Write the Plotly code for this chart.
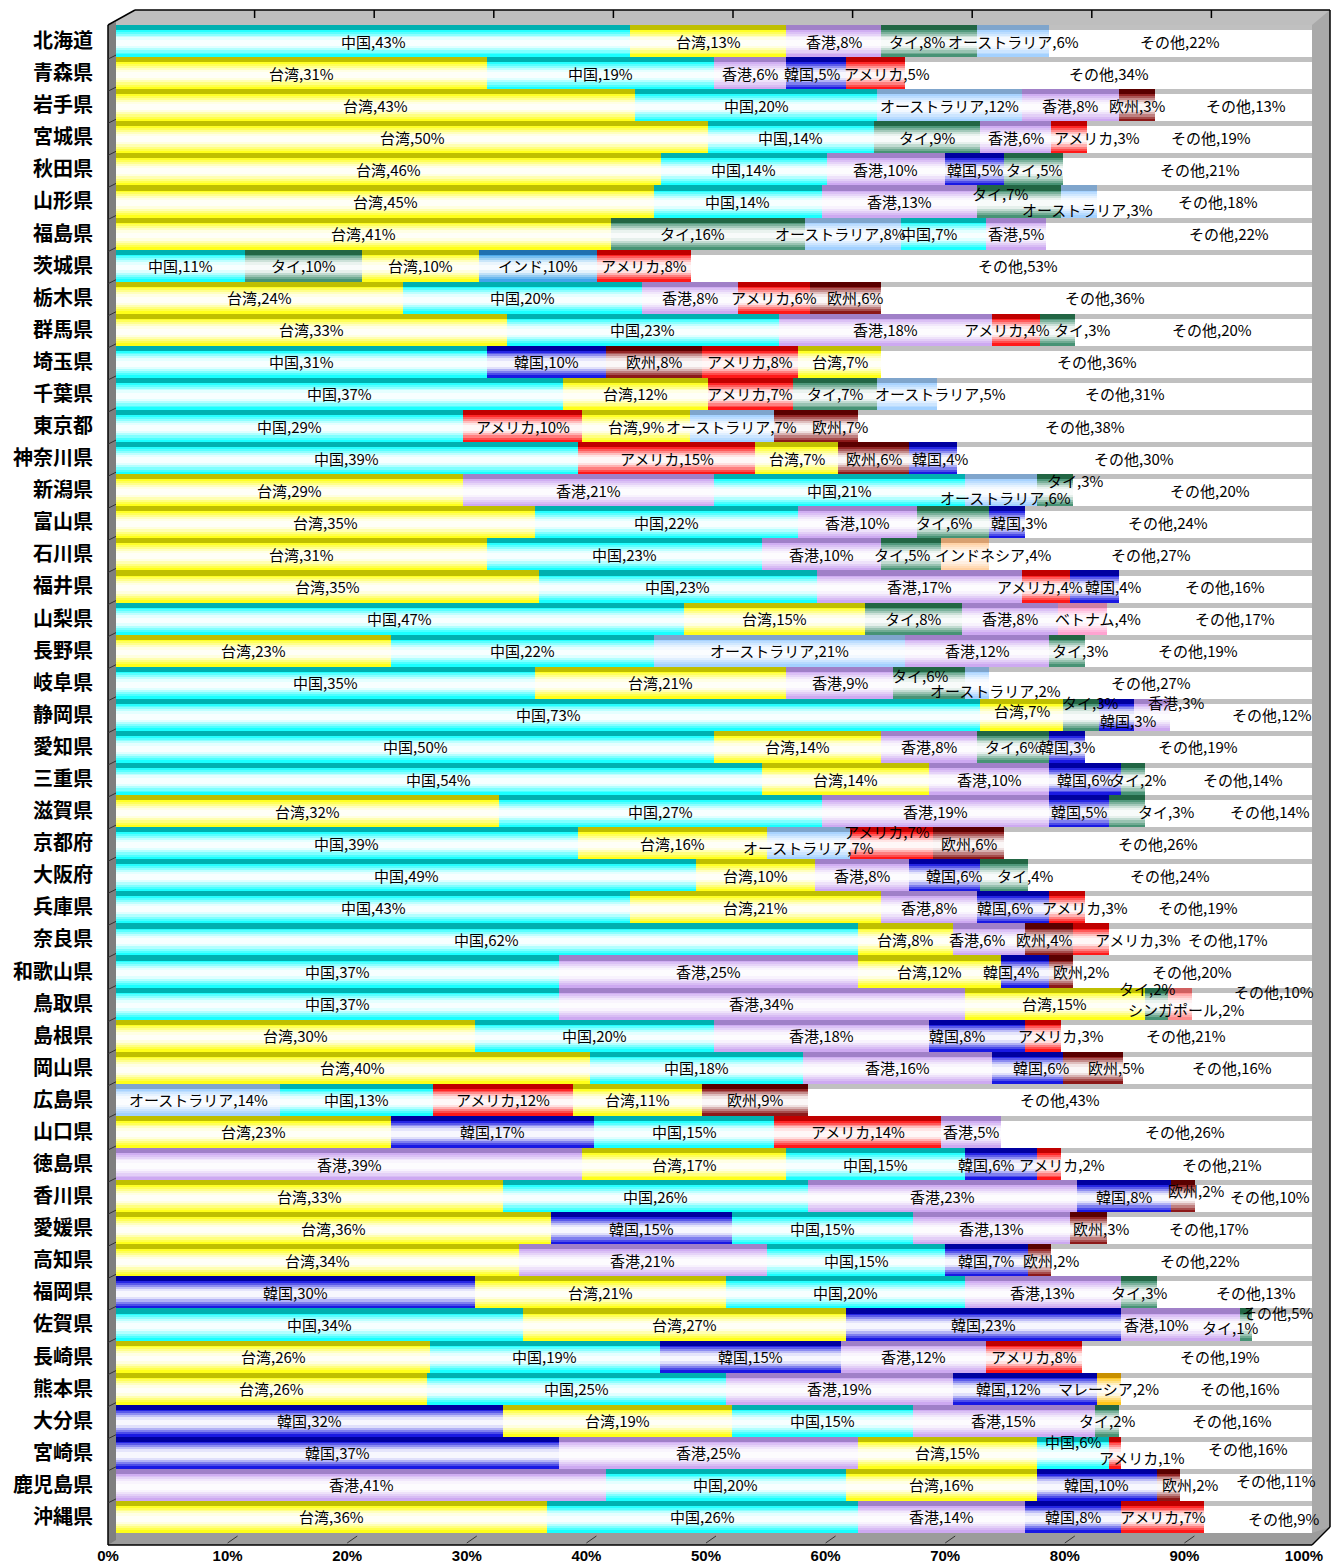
import plotly.graph_objects as go

prefectures = ["北海道", "青森県", "岩手県", "宮城県", "秋田県", "山形県", "福島県", "茨城県", "栃木県", "群馬県",
               "埼玉県", "千葉県", "東京都", "神奈川県", "新潟県", "富山県", "石川県", "福井県", "山梨県", "長野県",
               "岐阜県", "静岡県", "愛知県", "三重県", "滋賀県", "京都府", "大阪府", "兵庫県", "奈良県", "和歌山県",
               "鳥取県", "島根県", "岡山県", "広島県", "山口県", "徳島県", "香川県", "愛媛県", "高知県", "福岡県",
               "佐賀県", "長崎県", "熊本県", "大分県", "宮崎県", "鹿児島県", "沖縄県"]

seg_countries = [
    ["中国", "台湾", "香港", "タイ", "オーストラリア", "その他"],
    ["台湾", "中国", "香港", "韓国", "アメリカ", "その他"],
    ["台湾", "中国", "オーストラリア", "香港", "欧州", "その他"],
    ["台湾", "中国", "タイ", "香港", "アメリカ", "その他"],
    ["台湾", "中国", "香港", "韓国", "タイ", "その他"],
    ["台湾", "中国", "香港", "タイ", "オーストラリア", "その他"],
    ["台湾", "タイ", "オーストラリア", "中国", "香港", "その他"],
    ["中国", "タイ", "台湾", "インド", "アメリカ", "その他"],
    ["台湾", "中国", "香港", "アメリカ", "欧州", "その他"],
    ["台湾", "中国", "香港", "アメリカ", "タイ", "その他"],
    ["中国", "韓国", "欧州", "アメリカ", "台湾", "その他"],
    ["中国", "台湾", "アメリカ", "タイ", "オーストラリア", "その他"],
    ["中国", "アメリカ", "台湾", "オーストラリア", "欧州", "その他"],
    ["中国", "アメリカ", "台湾", "欧州", "韓国", "その他"],
    ["台湾", "香港", "中国", "オーストラリア", "タイ", "その他"],
    ["台湾", "中国", "香港", "タイ", "韓国", "その他"],
    ["台湾", "中国", "香港", "タイ", "インドネシア", "その他"],
    ["台湾", "中国", "香港", "アメリカ", "韓国", "その他"],
    ["中国", "台湾", "タイ", "香港", "ベトナム", "その他"],
    ["台湾", "中国", "オーストラリア", "香港", "タイ", "その他"],
    ["中国", "台湾", "香港", "タイ", "オーストラリア", "その他"],
    ["中国", "台湾", "タイ", "韓国", "香港", "その他"],
    ["中国", "台湾", "香港", "タイ", "韓国", "その他"],
    ["中国", "台湾", "香港", "韓国", "タイ", "その他"],
    ["台湾", "中国", "香港", "韓国", "タイ", "その他"],
    ["中国", "台湾", "オーストラリア", "アメリカ", "欧州", "その他"],
    ["中国", "台湾", "香港", "韓国", "タイ", "その他"],
    ["中国", "台湾", "香港", "韓国", "アメリカ", "その他"],
    ["中国", "台湾", "香港", "欧州", "アメリカ", "その他"],
    ["中国", "香港", "台湾", "韓国", "欧州", "その他"],
    ["中国", "香港", "台湾", "タイ", "シンガポール", "その他"],
    ["台湾", "中国", "香港", "韓国", "アメリカ", "その他"],
    ["台湾", "中国", "香港", "韓国", "欧州", "その他"],
    ["オーストラリア", "中国", "アメリカ", "台湾", "欧州", "その他"],
    ["台湾", "韓国", "中国", "アメリカ", "香港", "その他"],
    ["香港", "台湾", "中国", "韓国", "アメリカ", "その他"],
    ["台湾", "中国", "香港", "韓国", "欧州", "その他"],
    ["台湾", "韓国", "中国", "香港", "欧州", "その他"],
    ["台湾", "香港", "中国", "韓国", "欧州", "その他"],
    ["韓国", "台湾", "中国", "香港", "タイ", "その他"],
    ["中国", "台湾", "韓国", "香港", "タイ", "その他"],
    ["台湾", "中国", "韓国", "香港", "アメリカ", "その他"],
    ["台湾", "中国", "香港", "韓国", "マレーシア", "その他"],
    ["韓国", "台湾", "中国", "香港", "タイ", "その他"],
    ["韓国", "香港", "台湾", "中国", "アメリカ", "その他"],
    ["香港", "中国", "台湾", "韓国", "欧州", "その他"],
    ["台湾", "中国", "香港", "韓国", "アメリカ", "その他"],
]

seg_values = [
    [43, 13, 8, 8, 6, 22],
    [31, 19, 6, 5, 5, 34],
    [43, 20, 12, 8, 3, 13],
    [50, 14, 9, 6, 3, 19],
    [46, 14, 10, 5, 5, 21],
    [45, 14, 13, 7, 3, 18],
    [41, 16, 8, 7, 5, 22],
    [11, 10, 10, 10, 8, 53],
    [24, 20, 8, 6, 6, 36],
    [33, 23, 18, 4, 3, 20],
    [31, 10, 8, 8, 7, 36],
    [37, 12, 7, 7, 5, 31],
    [29, 10, 9, 7, 7, 38],
    [39, 15, 7, 6, 4, 30],
    [29, 21, 21, 6, 3, 20],
    [35, 22, 10, 6, 3, 24],
    [31, 23, 10, 5, 4, 27],
    [35, 23, 17, 4, 4, 16],
    [47, 15, 8, 8, 4, 17],
    [23, 22, 21, 12, 3, 19],
    [35, 21, 9, 6, 2, 27],
    [73, 7, 3, 3, 3, 12],
    [50, 14, 8, 6, 3, 19],
    [54, 14, 10, 6, 2, 14],
    [32, 27, 19, 5, 3, 14],
    [39, 16, 7, 7, 6, 26],
    [49, 10, 8, 6, 4, 24],
    [43, 21, 8, 6, 3, 19],
    [62, 8, 6, 4, 3, 17],
    [37, 25, 12, 4, 2, 20],
    [37, 34, 15, 2, 2, 10],
    [30, 20, 18, 8, 3, 21],
    [40, 18, 16, 6, 5, 16],
    [14, 13, 12, 11, 9, 43],
    [23, 17, 15, 14, 5, 26],
    [39, 17, 15, 6, 2, 21],
    [33, 26, 23, 8, 2, 10],
    [36, 15, 15, 13, 3, 17],
    [34, 21, 15, 7, 2, 22],
    [30, 21, 20, 13, 3, 13],
    [34, 27, 23, 10, 1, 5],
    [26, 19, 15, 12, 8, 19],
    [26, 25, 19, 12, 2, 16],
    [32, 19, 15, 15, 2, 16],
    [37, 25, 15, 6, 1, 16],
    [41, 20, 16, 10, 2, 11],
    [36, 26, 14, 8, 7, 9],
]

x_ticks = [0, 10, 20, 30, 40, 50, 60, 70, 80, 90, 100]
x_tick_labels = ["0%", "10%", "20%", "30%", "40%", "50%", "60%", "70%", "80%", "90%", "100%"]

# ---- styling ----
base_colors = {
    "中国": (0, 255, 255), "台湾": (255, 255, 0), "香港": (200, 160, 240), "タイ": (51, 136, 102),
    "オーストラリア": (153, 204, 255), "韓国": (0, 0, 224), "アメリカ": (255, 0, 0), "欧州": (128, 0, 0),
    "その他": (255, 255, 255), "インド": (46, 155, 232), "インドネシア": (255, 204, 153),
    "ベトナム": (255, 153, 204), "シンガポール": (255, 128, 128), "マレーシア": (255, 192, 0),
}
face_colors = {
    "中国": (0, 176, 176), "台湾": (191, 191, 0), "香港": (160, 128, 200), "タイ": (34, 102, 68),
    "オーストラリア": (127, 165, 204), "韓国": (0, 0, 160), "アメリカ": (192, 0, 0), "欧州": (90, 0, 0),
    "その他": (192, 192, 192), "インド": (32, 112, 176), "インドネシア": (217, 160, 112),
    "ベトナム": (208, 128, 160), "シンガポール": (208, 96, 96), "マレーシア": (200, 144, 0),
}
# (white mix, band height) from top of bar to bottom; None = top face
bands = [(None, 0.16), (0.15, 0.05), (0.35, 0.06), (0.55, 0.06), (0.75, 0.06), (0.90, 0.08),
         (0.97, 0.18), (0.88, 0.07), (0.70, 0.07), (0.50, 0.07), (0.30, 0.06), (0.10, 0.08)]


def shade(country, mix):
    if mix is None:
        r, g, b = face_colors[country]
    else:
        r0, g0, b0 = base_colors[country]
        r = r0 + (255 - r0) * mix
        g = g0 + (255 - g0) * mix
        b = b0 + (255 - b0) * mix
    return f"rgb({int(r)},{int(g)},{int(b)})"


n = len(prefectures)
nseg = max(len(v) for v in seg_values)
fig = go.Figure()
off = 0.0
for mix, h in bands:
    for r in range(nseg):
        ys, xs, cols = [], [], []
        for i in range(n):
            if r < len(seg_values[i]):
                ys.append(i - 0.5 + off + h / 2)
                xs.append(seg_values[i][r])
                cols.append(shade(seg_countries[i][r], mix))
        fig.add_trace(go.Bar(orientation="h", y=ys, x=xs, width=h * 1.02,
                             marker=dict(color=cols, line=dict(width=0)),
                             hoverinfo="skip", showlegend=False))
    off += h

# label offsets (pixels: xshift, yshift) for crowded / displaced labels
label_shift = {
    ("北海道", "タイ"): (-12, 0),
    ("青森県", "韓国"): (-4, 0), ("青森県", "アメリカ"): (12, 0),
    ("岩手県", "その他"): (13, 0),
    ("宮城県", "アメリカ"): (28, 0), ("宮城県", "その他"): (11, 0),
    ("秋田県", "その他"): (12, 0),
    ("山形県", "タイ"): (-19, 8), ("山形県", "オーストラリア"): (9, -8), ("山形県", "その他"): (14, 0),
    ("福島県", "タイ"): (-15, 0), ("福島県", "オーストラリア"): (-12, 0), ("福島県", "中国"): (-15, 0),
    ("福島県", "その他"): (50, 0),
    ("茨城県", "その他"): (17, 0),
    ("栃木県", "欧州"): (9, 0), ("栃木県", "その他"): (8, 0),
    ("群馬県", "アメリカ"): (-9, 0), ("群馬県", "タイ"): (25, 0), ("群馬県", "その他"): (18, 0),
    ("千葉県", "オーストラリア"): (33, 0),
    ("東京都", "欧州"): (24, 0),
    ("神奈川県", "韓国"): (7, 0),
    ("新潟県", "オーストラリア"): (4, -7), ("新潟県", "タイ"): (20, 10), ("新潟県", "その他"): (18, 0),
    ("富山県", "タイ"): (-9, 0), ("富山県", "韓国"): (12, 0),
    ("石川県", "タイ"): (-9, 0), ("石川県", "インドネシア"): (28, 0),
    ("福井県", "アメリカ"): (-6, 0), ("福井県", "韓国"): (18, 0), ("福井県", "その他"): (10, 0),
    ("山梨県", "ベトナム"): (16, 0), ("山梨県", "その他"): (26, 0),
    ("長野県", "タイ"): (13, 0),
    ("岐阜県", "タイ"): (-9, 7), ("岐阜県", "オーストラリア"): (18, -8),
    ("静岡県", "台湾"): (0, 4), ("静岡県", "タイ"): (9, 12), ("静岡県", "韓国"): (11, -6),
    ("静岡県", "香港"): (24, 12), ("静岡県", "その他"): (31, 0),
    ("三重県", "タイ"): (5, 0), ("三重県", "その他"): (15, 0),
    ("滋賀県", "タイ"): (39, 0), ("滋賀県", "その他"): (42, 0),
    ("京都府", "アメリカ"): (-5, 12), ("京都府", "オーストラリア"): (0, -4),
    ("大阪府", "韓国"): (9, 0), ("大阪府", "タイ"): (21, 0),
    ("兵庫県", "韓国"): (-8, 0), ("兵庫県", "アメリカ"): (18, 0),
    ("奈良県", "香港"): (-12, 0), ("奈良県", "欧州"): (-5, 0), ("奈良県", "アメリカ"): (47, 0),
    ("奈良県", "その他"): (18, 0),
    ("和歌山県", "韓国"): (-14, 0), ("和歌山県", "欧州"): (20, 0),
    ("鳥取県", "タイ"): (-10, 15), ("鳥取県", "シンガポール"): (6, -6), ("鳥取県", "その他"): (22, 12),
    ("島根県", "韓国"): (-20, 0), ("島根県", "アメリカ"): (18, 0),
    ("岡山県", "韓国"): (13, 0), ("岡山県", "欧州"): (23, 0), ("岡山県", "その他"): (15, 0),
    ("山口県", "その他"): (28, 0),
    ("徳島県", "韓国"): (-15, 0), ("徳島県", "アメリカ"): (13, 0), ("徳島県", "その他"): (36, 0),
    ("香川県", "欧州"): (13, 6), ("香川県", "その他"): (17, 0),
    ("愛媛県", "欧州"): (12, 0),
    ("高知県", "欧州"): (11, 0), ("高知県", "その他"): (18, 0),
    ("福岡県", "その他"): (22, 0),
    ("佐賀県", "香港"): (-24, 0), ("佐賀県", "タイ"): (-16, -3), ("佐賀県", "その他"): (-5, 12),
    ("長崎県", "その他"): (23, 0),
    ("熊本県", "韓国"): (-16, 0), ("熊本県", "その他"): (24, 0),
    ("大分県", "その他"): (17, 0),
    ("宮崎県", "中国"): (0, 11), ("宮崎県", "アメリカ"): (27, -5), ("宮崎県", "その他"): (32, 4),
    ("鹿児島県", "欧州"): (22, 0), ("鹿児島県", "その他"): (30, 4),
    ("沖縄県", "その他"): (25, -2),
}

annotations = []
for i in range(n):
    total = sum(seg_values[i])
    cum = 0
    for c, v in zip(seg_countries[i], seg_values[i]):
        center = (cum + v / 2) / total * 100
        cum += v
        dx, dy = label_shift.get((prefectures[i], c), (0, 0))
        annotations.append(dict(x=center, y=i, xref="x", yref="y", text=f"{c},{v}%", showarrow=False,
                                xshift=dx, yshift=dy,
                                font=dict(family="Noto Sans CJK JP", size=15, color="black")))

# ---- 3D frame decoration (pixel geometry in page coordinates) ----
W, H = 1337, 1565
ML, MR, MT, MB = 116, 25, 25, 32
PW, PH = W - ML - MR, H - MT - MB


def fx(px):
    return (px - ML) / PW


def fy(py):
    return (H - MB - py) / PH


def poly(pts):
    return "M " + " L ".join(f"{fx(x):.5f},{fy(y):.5f}" for x, y in pts) + " Z"


shapes = []
shapes.append(dict(type="path", xref="paper", yref="paper",
                   path=poly([(108, 25), (135, 10), (1330, 10), (1330, 25)]),
                   fillcolor="#BEBEBE", line=dict(width=0), layer="above"))
shapes.append(dict(type="path", xref="paper", yref="paper",
                   path=poly([(1312, 25), (1330, 10), (1330, 1527), (1312, 1545)]),
                   fillcolor="#A9A9A9", line=dict(width=0), layer="above"))
shapes.append(dict(type="path", xref="paper", yref="paper",
                   path=poly([(108, 1533), (1312, 1533), (1330, 1527), (1312, 1545), (108, 1545)]),
                   fillcolor="#9C9C9C", line=dict(width=0), layer="above"))
shapes.append(dict(type="path", xref="paper", yref="paper",
                   path=poly([(108, 25), (116, 22), (116, 1540), (108, 1545)]),
                   fillcolor="#7F7F7F", line=dict(width=0), layer="above"))


def seg(x0, y0, x1, y1, w=1.5, col="black"):
    shapes.append(dict(type="line", xref="paper", yref="paper", x0=fx(x0), y0=fy(y0), x1=fx(x1), y1=fy(y1),
                       line=dict(color=col, width=w), layer="above"))


seg(135, 10, 1330, 10)
seg(108, 25, 135, 10)
seg(1330, 10, 1330, 1527)
seg(108, 25, 108, 1545)
seg(108, 1545, 1312, 1545)
seg(1312, 1545, 1330, 1527)
for t in x_ticks[1:-1]:
    xt = 135 + t / 100 * PW
    seg(xt, 10, xt, 18, w=1.5)
    xb = 116 + t / 100 * PW
    seg(xb - 8, 1543, xb + 2, 1536, w=1, col="#333333")
for i in range(1, n):
    yb = MT + i * PH / n
    seg(108, yb + 2, 116, yb - 2, w=1, col="#333333")

fig.update_layout(
    template="none",
    width=W, height=H,
    margin=dict(l=ML, r=MR, t=MT, b=MB, autoexpand=False),
    barmode="stack", barnorm="percent",
    paper_bgcolor="white", plot_bgcolor="#C0C0C0",
    annotations=annotations, shapes=shapes,
    xaxis=dict(range=[0, 100], tickvals=x_ticks, ticktext=x_tick_labels, showgrid=False, zeroline=False,
               showline=False, ticks="", ticklabelshift=-8, ticklabelstandoff=12, automargin=False,
               tickfont=dict(family="Liberation Sans", size=15, color="black", weight="bold"), fixedrange=True),
    yaxis=dict(range=[n - 0.5, -0.5], tickvals=list(range(n)), ticktext=prefectures, showgrid=False,
               zeroline=False, showline=False, ticks="", ticklabelstandoff=22, automargin=False,
               tickfont=dict(family="Noto Sans CJK JP", size=20, color="black", weight="bold"), fixedrange=True),
)

fig.write_html("out.html", config={"displayModeBar": False, "staticPlot": True},
               post_script="document.body.style.margin='0';document.body.style.overflow='hidden';")
